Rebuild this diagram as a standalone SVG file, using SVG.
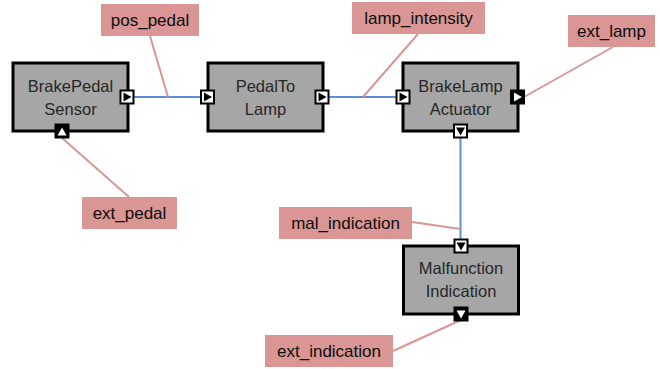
<svg xmlns="http://www.w3.org/2000/svg" width="660" height="369" viewBox="0 0 660 369">
<style>
.box{fill:#a6a6a6;stroke:#000;stroke-width:3}
.nt{font-family:"Liberation Sans",Arial,sans-serif;font-size:16.5px;fill:#262626;text-anchor:middle}
.lbl{fill:#da9694}
.lt{font-family:"Liberation Sans",Arial,sans-serif;font-size:17px;fill:#0d0d0d;text-anchor:middle}
.wire{stroke:#5b8ed6;stroke-width:2;fill:none}
.lead{stroke:#da9694;stroke-width:2;fill:none}
.pw{fill:#fff;stroke:#000;stroke-width:2}
.pb{fill:#000;stroke:#000;stroke-width:2}
.tb{fill:#000}
.tw{fill:#fff}
</style>
<rect width="660" height="369" fill="#fff"/>
<g id="connectors">
<line class="wire" x1="134" y1="97" x2="201" y2="97"/>
<line class="wire" x1="329" y1="97" x2="396" y2="97"/>
<line class="wire" x1="460.5" y1="138" x2="460.5" y2="239"/>
<line class="lead" x1="150" y1="36" x2="168" y2="97"/>
<line class="lead" x1="62" y1="138" x2="129" y2="197"/>
<line class="lead" x1="418" y1="34" x2="363" y2="97"/>
<line class="lead" x1="613" y1="47" x2="524" y2="97"/>
<line class="lead" x1="412" y1="222" x2="460.5" y2="229"/>
<line class="lead" x1="393" y1="351" x2="461" y2="320"/>
</g>
<g id="BrakePedalSensor">
<rect class="box" x="13" y="63" width="115" height="68"/>
<text class="nt" x="70.5" y="92">BrakePedal</text>
<text class="nt" x="70.5" y="115">Sensor</text>
<rect class="pw" x="120.5" y="90.5" width="13" height="13"/>
<polygon class="tb" points="123.5,92.5 131.5,97 123.5,101.5"/>
<rect class="pb" x="55.5" y="124.5" width="13" height="13"/>
<polygon class="tw" points="62,127.5 66.5,135.5 57.5,135.5"/>
</g>
<g id="PedalToLamp">
<rect class="box" x="208" y="63" width="115" height="68"/>
<text class="nt" x="265.5" y="92">PedalTo</text>
<text class="nt" x="265.5" y="115">Lamp</text>
<rect class="pw" x="201" y="90.5" width="13" height="13"/>
<polygon class="tb" points="204,92.5 212,97 204,101.5"/>
<rect class="pw" x="315.5" y="90.5" width="13" height="13"/>
<polygon class="tb" points="318.5,92.5 326.5,97 318.5,101.5"/>
</g>
<g id="BrakeLampActuator">
<rect class="box" x="403" y="63" width="115" height="68"/>
<text class="nt" x="460.5" y="92">BrakeLamp</text>
<text class="nt" x="460.5" y="115">Actuator</text>
<rect class="pw" x="396.5" y="90.5" width="13" height="13"/>
<polygon class="tb" points="399.5,92.5 407.5,97 399.5,101.5"/>
<rect class="pb" x="511" y="90.5" width="13" height="13"/>
<polygon class="tw" points="514,92.5 522,97 514,101.5"/>
<rect class="pw" x="454" y="124.5" width="13" height="13"/>
<polygon class="tb" points="456,127.5 465,127.5 460.5,135.5"/>
</g>
<g id="MalfunctionIndication">
<rect class="box" x="403.5" y="246" width="115" height="68"/>
<text class="nt" x="461" y="274">Malfunction</text>
<text class="nt" x="461" y="297">Indication</text>
<rect class="pw" x="454.5" y="239.5" width="13" height="13"/>
<polygon class="tb" points="456.5,242.5 465.5,242.5 461,250.5"/>
<rect class="pb" x="454.5" y="307.5" width="13" height="13"/>
<polygon class="tw" points="456.5,310.5 465.5,310.5 461,318.5"/>
</g>
<g id="label_pos_pedal">
<rect class="lbl" x="101" y="4" width="98" height="32"/>
<text class="lt" x="150" y="26">pos_pedal</text>
</g>
<g id="label_ext_pedal">
<rect class="lbl" x="82" y="197" width="95" height="32"/>
<text class="lt" x="129.5" y="219">ext_pedal</text>
</g>
<g id="label_lamp_intensity">
<rect class="lbl" x="352" y="2" width="133" height="32"/>
<text class="lt" x="418.5" y="24">lamp_intensity</text>
</g>
<g id="label_ext_lamp">
<rect class="lbl" x="568" y="15" width="87" height="32"/>
<text class="lt" x="611.5" y="37">ext_lamp</text>
</g>
<g id="label_mal_indication">
<rect class="lbl" x="279" y="207" width="133" height="32"/>
<text class="lt" x="345.5" y="229">mal_indication</text>
</g>
<g id="label_ext_indication">
<rect class="lbl" x="265" y="335" width="128" height="32"/>
<text class="lt" x="329" y="357">ext_indication</text>
</g>
</svg>
